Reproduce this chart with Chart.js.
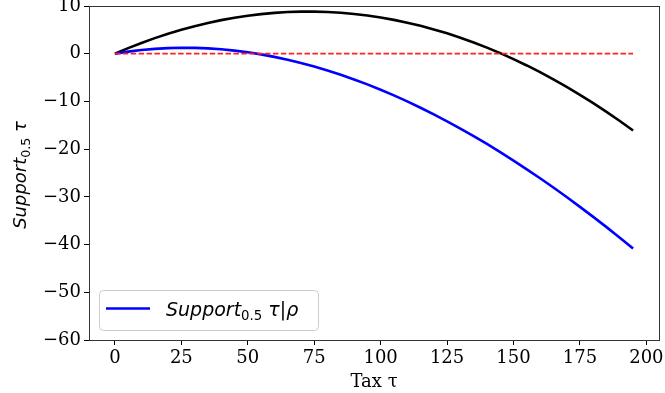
<!DOCTYPE html>
<html>
<head>
<meta charset="utf-8">
<script src="https://cdn.jsdelivr.net/npm/chart.js@4/dist/chart.umd.min.js"></script>
<style>
  html, body { margin: 0; padding: 0; background: #fff; }
</style>
</head>
<body>
<canvas id="supportChart" width="665" height="393"></canvas>
<script>
// tax levels (x) and the two support curves
const taxValues = [0, 5, 10, 15, 20, 25, 30, 35, 40, 45, 50, 55, 60, 65, 70, 75, 80, 85, 90, 95,
  100, 105, 110, 115, 120, 125, 130, 135, 140, 145, 150, 155, 160, 165, 170, 175, 180, 185, 190, 195];
const supportTax = [0, 1.17, 2.26, 3.27, 4.19, 5.03, 5.78, 6.45, 7.04, 7.54, 7.97, 8.30, 8.56, 8.73, 8.82, 8.82, 8.74, 8.58, 8.33, 8.00,
  7.59, 7.09, 6.51, 5.85, 5.10, 4.27, 3.36, 2.36, 1.28, 0.12, -1.13, -2.46, -3.87, -5.37, -6.95, -8.61, -10.36, -12.19, -14.10, -16.10];
const supportTaxRho = [0, 0.43, 0.77, 1.01, 1.17, 1.24, 1.22, 1.12, 0.93, 0.65, 0.30, -0.14, -0.66, -1.25, -1.93, -2.68, -3.51, -4.41, -5.39, -6.43,
  -7.55, -8.74, -10.00, -11.32, -12.72, -14.17, -15.69, -17.28, -18.92, -20.63, -22.40, -24.23, -26.11, -28.05, -30.04, -32.09, -34.19, -36.34, -38.55, -40.80];
const zeroLine = taxValues.map(() => 0);

const xTicks = [0, 25, 50, 75, 100, 125, 150, 175, 200];
const yTicks = [-60, -50, -40, -30, -20, -10, 0, 10];

const toPoints = (ys) => ys.map((y, i) => ({ x: taxValues[i], y: y }));
const fmt = (v) => v < 0 ? '\u2212' + Math.abs(v) : String(v);

// draw a row of text pieces with different fonts (for subscripts)
function drawRuns(ctx, runs, x, y, measureOnly) {
  let w = 0;
  runs.forEach(r => {
    ctx.font = r.font;
    if (!measureOnly) ctx.fillText(r.text, x + w, y + (r.dy || 0));
    w += ctx.measureText(r.text).width;
  });
  return w;
}

const sans = '"DejaVu Sans"';
const labelRuns = [
  { text: 'Support', font: 'italic 18px ' + sans },
  { text: '0.5', font: '12.6px ' + sans, dy: 4 },
  { text: ' ', font: '18px ' + sans },
  { text: '\u03c4', font: 'italic 18px ' + sans }
];
const legendRuns = [
  { text: 'Support', font: 'italic 19px ' + sans },
  { text: '0.5', font: '13.3px ' + sans, dy: 4 },
  { text: ' ', font: '19px ' + sans },
  { text: '\u03c4', font: 'italic 19px ' + sans },
  { text: '|', font: '19px ' + sans },
  { text: '\u03c1', font: 'italic 19px ' + sans }
];

const decorations = {
  id: 'decorations',
  afterDraw(chart) {
    const ctx = chart.ctx;
    const a = chart.chartArea;
    ctx.save();
    // frame
    ctx.strokeStyle = '#333';
    ctx.lineWidth = 1;
    ctx.strokeRect(Math.round(a.left) + 0.5, Math.round(a.top) + 0.5,
      Math.round(a.right - a.left), Math.round(a.bottom - a.top));

    ctx.fillStyle = '#000';
    ctx.textBaseline = 'alphabetic';

    // x title
    ctx.font = '18px "DejaVu Serif"';
    ctx.textAlign = 'center';
    ctx.fillText('Tax \u03c4', (a.left + a.right) / 2, 387);

    // y title, rotated
    ctx.textAlign = 'left';
    ctx.save();
    ctx.translate(26, 175);
    ctx.rotate(-Math.PI / 2);
    const lw = drawRuns(ctx, labelRuns, 0, 0, true);
    drawRuns(ctx, labelRuns, -lw / 2, 0);
    ctx.restore();

    // legend
    ctx.fillStyle = 'rgba(255,255,255,0.8)';
    ctx.strokeStyle = '#cccccc';
    ctx.beginPath();
    if (ctx.roundRect) ctx.roundRect(99.5, 290.5, 219, 40, 4);
    else ctx.rect(99.5, 290.5, 219, 40);
    ctx.fill();
    ctx.stroke();
    ctx.strokeStyle = '#0000ff';
    ctx.lineWidth = 2.6;
    ctx.beginPath();
    ctx.moveTo(106, 308.5);
    ctx.lineTo(150, 308.5);
    ctx.stroke();
    ctx.fillStyle = '#000';
    drawRuns(ctx, legendRuns, 166, 316);
    ctx.restore();
  }
};

new Chart(document.getElementById('supportChart').getContext('2d'), {
  type: 'line',
  data: {
    datasets: [
      {
        label: 'zero',
        data: toPoints(zeroLine),
        borderColor: '#ff2020',
        borderWidth: 1.8,
        borderDash: [5.5, 2.4],
        pointRadius: 0
      },
      {
        label: 'Support0.5 τ|ρ',
        data: toPoints(supportTaxRho),
        borderColor: '#0000ff',
        borderWidth: 2.6,
        pointRadius: 0
      },
      {
        label: 'Support0.5 τ',
        data: toPoints(supportTax),
        borderColor: '#000000',
        borderWidth: 2.6,
        pointRadius: 0
      }
    ]
  },
  options: {
    responsive: false,
    animation: false,
    layout: { padding: { left: 0, top: 6, right: 6, bottom: 0 } },
    plugins: {
      legend: { display: false },
      tooltip: { enabled: false }
    },
    scales: {
      x: {
        type: 'linear',
        min: -9.75,
        max: 204.75,
        afterBuildTicks: (scale) => { scale.ticks = xTicks.map(v => ({ value: v })); },
        afterFit: (scale) => {
          scale.height = 53;
          scale.paddingLeft = 0; scale.paddingRight = 0;
        },
        grid: { drawOnChartArea: false, drawTicks: true, tickLength: 5, color: '#000' },
        border: { display: true, color: '#333' },
        ticks: {
          padding: 3,
          color: '#000',
          font: { family: 'DejaVu Serif', size: 18 },
          maxRotation: 0,
          callback: fmt
        }
      },
      y: {
        type: 'linear',
        min: -60,
        max: 10,
        afterBuildTicks: (scale) => { scale.ticks = yTicks.map(v => ({ value: v })); },
        afterFit: (scale) => {
          scale.width = 89;
          scale.paddingTop = 0; scale.paddingBottom = 0;
        },
        grid: { drawOnChartArea: false, drawTicks: true, tickLength: 5, color: '#000' },
        border: { display: true, color: '#333' },
        ticks: {
          padding: 3,
          color: '#000',
          font: { family: 'DejaVu Serif', size: 18 },
          callback: fmt
        }
      }
    }
  },
  plugins: [decorations]
});
</script>
</body>
</html>
